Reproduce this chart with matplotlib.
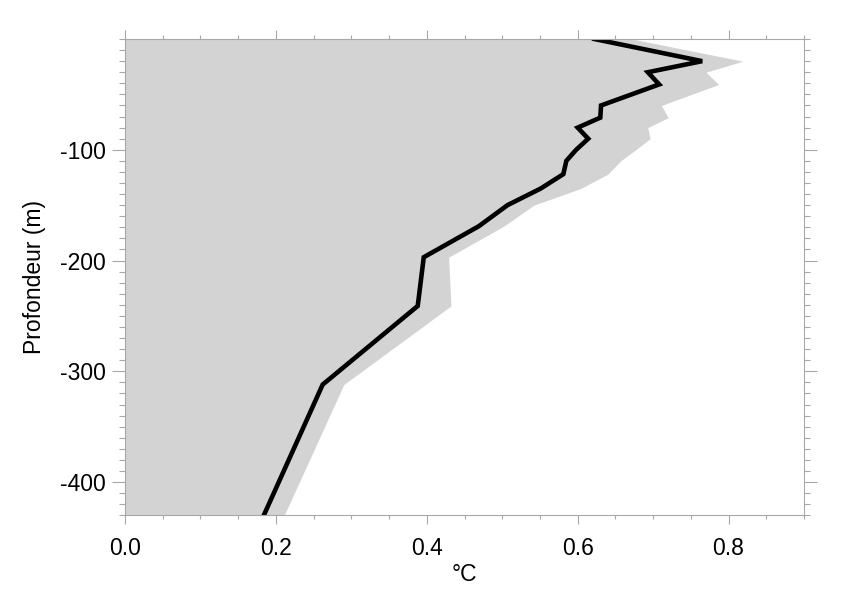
import matplotlib
matplotlib.use('Agg')
import matplotlib.pyplot as plt
from matplotlib.ticker import MultipleLocator, FormatStrFormatter

plt.rcParams['font.family'] = ['Liberation Sans', 'DejaVu Sans']
plt.rcParams['axes.unicode_minus'] = False

# Depth levels (m) and values (°C)
depth = [0, -20, -30, -41, -60, -71, -80, -90, -100, -110, -122, -135, -150,
         -169, -197, -241, -312, -430]
mean_line = [0.622, 0.765, 0.693, 0.708, 0.631, 0.630, 0.600, 0.614, 0.598,
             0.585, 0.581, 0.551, 0.507, 0.469, 0.396, 0.388, 0.262, 0.184]
upper_bound = [0.672, 0.819, 0.770, 0.787, 0.711, 0.720, 0.693, 0.696, 0.677,
               0.657, 0.640, 0.604, 0.542, 0.502, 0.429, 0.432, 0.290, 0.211]

xticks = [0.0, 0.2, 0.4, 0.6, 0.8]
yticks = [-100, -200, -300, -400]

fig = plt.figure(figsize=(8.41, 5.95), dpi=100)
ax = fig.add_axes([125 / 841, (595 - 515.3) / 595, (804 - 125) / 841, (515.3 - 39) / 595])

ax.fill_betweenx(depth, 0, upper_bound, color='#d3d3d3', lw=0, zorder=1)
ax.plot(mean_line, depth, color='black', lw=3.3, solid_joinstyle='miter', zorder=2)

ax.set_xlim(0, 0.9)
ax.set_ylim(-430, 0)
ax.set_xticks(xticks)
ax.set_yticks(yticks)
ax.xaxis.set_major_formatter(FormatStrFormatter('%.1f'))
ax.yaxis.set_major_formatter(FormatStrFormatter('%d'))
ax.xaxis.set_minor_locator(MultipleLocator(0.05))
ax.yaxis.set_minor_locator(MultipleLocator(10))

grey = '#a8a8a8'
for s in ax.spines.values():
    s.set_color(grey)
    s.set_linewidth(0.8)
    s.set_zorder(3)

ax.tick_params(which='both', direction='out', top=True, right=True,
               colors=grey, labelcolor='black', width=0.8, labelsize=16.5)
ax.tick_params(axis='x', which='major', length=6.5, pad=9)
ax.tick_params(axis='x', which='minor', length=3.2)
ax.tick_params(axis='y', which='major', length=9.1, pad=5)
ax.tick_params(axis='y', which='minor', length=4.3)

ax.set_xlabel('°C', fontsize=16.5, labelpad=2)
ax.set_ylabel('Profondeur (m)', fontsize=16.5, labelpad=10)

fig.savefig('out.png', dpi=100)
